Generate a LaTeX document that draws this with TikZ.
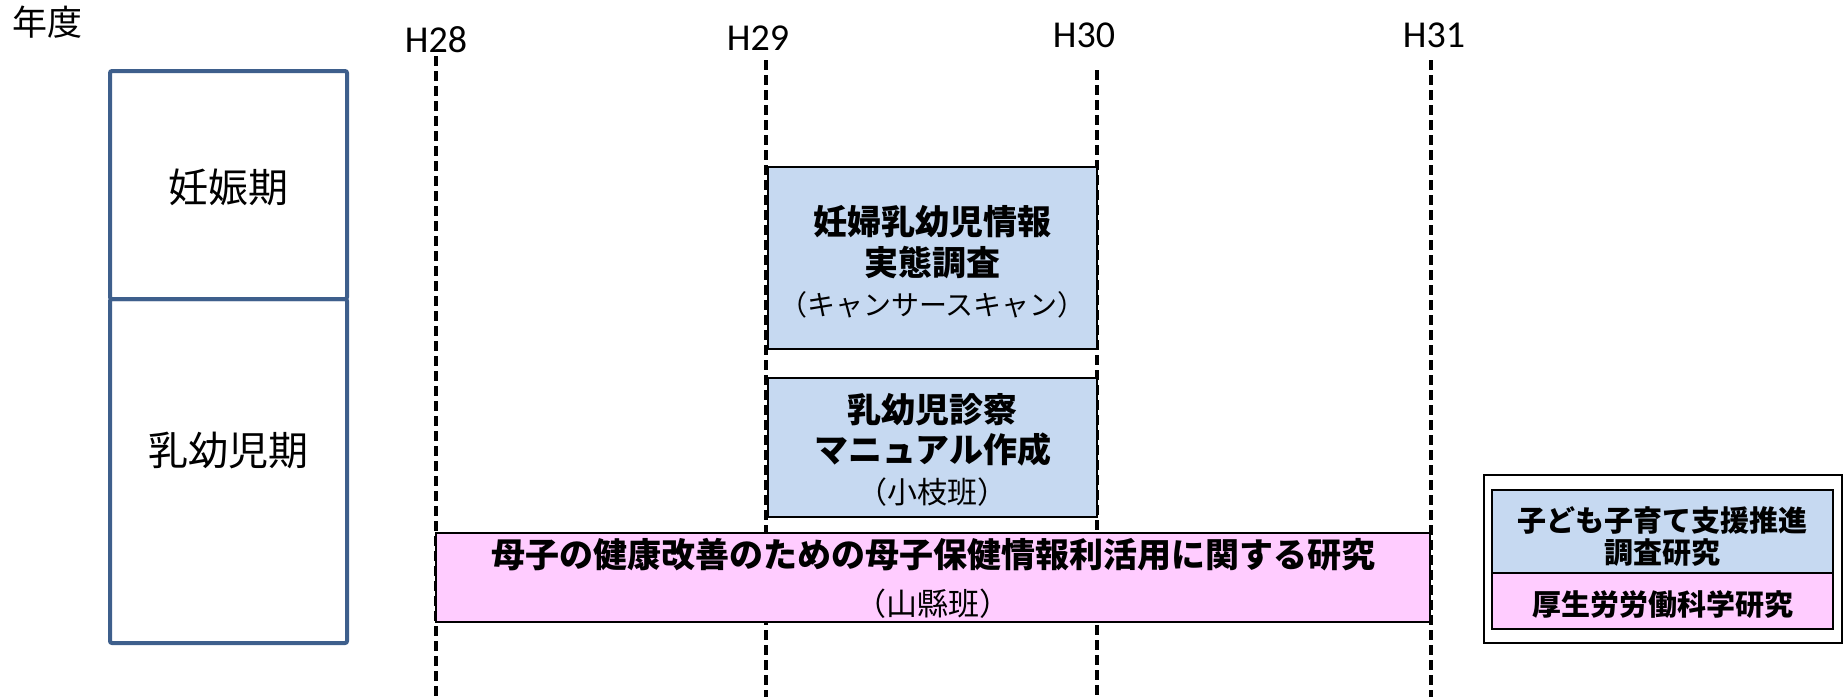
\documentclass[tikz,border=0pt]{standalone}
\usepackage{fontspec}
\setmainfont{Noto Sans CJK JP}
\newfontfamily\latfont{Carlito}
\definecolor{phaseblue}{HTML}{3E5F8C}
\definecolor{boxblue}{HTML}{C6D9F1}
\definecolor{boxpink}{HTML}{FFCCFF}
\tikzset{
  yearline/.style={line width=1.75pt, dash pattern=on 5pt off 2.5pt},
  yearlabel/.style={font=\latfont\fontsize{19pt}{22pt}\selectfont, inner sep=0pt},
  phasebox/.style={draw=phaseblue, line width=2pt, rounded corners=1pt, inner sep=0pt},
  phaselabel/.style={font=\fontsize{20pt}{24pt}\selectfont, inner sep=0pt},
  bluebox/.style={draw=black, fill=boxblue, line width=1.25pt, inner sep=0pt},
  pinkbox/.style={draw=black, fill=boxpink, line width=1.25pt, inner sep=0pt},
  bigtitle/.style={font=\bfseries\fontsize{17pt}{20pt}\selectfont, inner sep=0pt},
  subtitle/.style={font=\fontsize{14pt}{16pt}\selectfont, inner sep=0pt},
  legtext/.style={font=\bfseries\fontsize{14.5pt}{17pt}\selectfont, inner sep=0pt},
}
\begin{document}
\begin{tikzpicture}[x=0.5pt,y=-0.5pt]
\useasboundingbox (0,0) rectangle (1848,697);
% year label
\node[font=\fontsize{17.5pt}{20pt}\selectfont, inner sep=0pt] (nendo) at (47,22) {年度};
% year markers
\node[yearlabel] (h28) at (436,40) {H28};
\node[yearlabel] (h29) at (758,38) {H29};
\node[yearlabel] (h30) at (1084,35) {H30};
\node[yearlabel] (h31) at (1434,35) {H31};
\coordinate (t28) at (436,56);   \coordinate (b28) at (436,697);
\coordinate (t29) at (766,60);   \coordinate (b29) at (766,697);
\coordinate (t30) at (1097,70);  \coordinate (b30) at (1097,697);
\coordinate (t31) at (1431,60);  \coordinate (b31) at (1431,697);
\draw[yearline] (t28) -- (b28);
\draw[yearline] (t29) -- (b29);
\draw[yearline] (t30) -- (b30);
\draw[yearline] (t31) -- (b31);
% phase boxes
\node[phasebox, minimum width=118.5pt, minimum height=114pt] (preg) at (228.5,185) {};
\node[phasebox, minimum width=118.5pt, minimum height=172pt] (infant) at (228.5,471) {};
\node[phaselabel] (pregl) at (228.5,187) {妊娠期};
\node[phaselabel] (infl) at (228.5,450) {乳幼児期};
% blue box 1
\node[bluebox, minimum width=164.5pt, minimum height=91pt] (survey) at (932.5,258) {};
\node[bigtitle] (s1) at (932.5,222) {妊婦乳幼児情報};
\node[bigtitle] (s2) at (932.5,263) {実態調査};
\node[subtitle] (s3) at (932.5,305) {（キャンサースキャン）};
% blue box 2
\node[bluebox, minimum width=164.5pt, minimum height=69.5pt] (manual) at (932.5,447.5) {};
\node[bigtitle] (m1) at (932.5,410) {乳幼児診察};
\node[bigtitle] (m2) at (932.5,450) {マニュアル作成};
\node[subtitle, font=\fontsize{15pt}{17pt}\selectfont] (m3) at (932.5,492) {（小枝班）};
% pink box
\node[pinkbox, minimum width=497pt, minimum height=44.5pt] (study) at (933,577.5) {};
\node[bigtitle] (p1) at (933,555) {母子の健康改善のための母子保健情報利活用に関する研究};
\node[subtitle, font=\fontsize{15.5pt}{18pt}\selectfont] (p2) at (933,604) {（山縣班）};
% legend
\node[draw=black, line width=1pt, minimum width=179pt, minimum height=84pt, inner sep=0pt] (legend) at (1663,559) {};
\node[bluebox, minimum width=170.5pt, minimum height=41.5pt] (legblue) at (1662.5,531.5) {};
\node[pinkbox, minimum width=170.5pt, minimum height=28pt] (legpink) at (1662.5,601) {};
\node[legtext] (lb1) at (1662.5,520) {子ども子育て支援推進};
\node[legtext] (lb2) at (1662.5,553) {調査研究};
\node[legtext] (lp1) at (1662.5,605) {厚生労労働科学研究};
\end{tikzpicture}
\end{document}
